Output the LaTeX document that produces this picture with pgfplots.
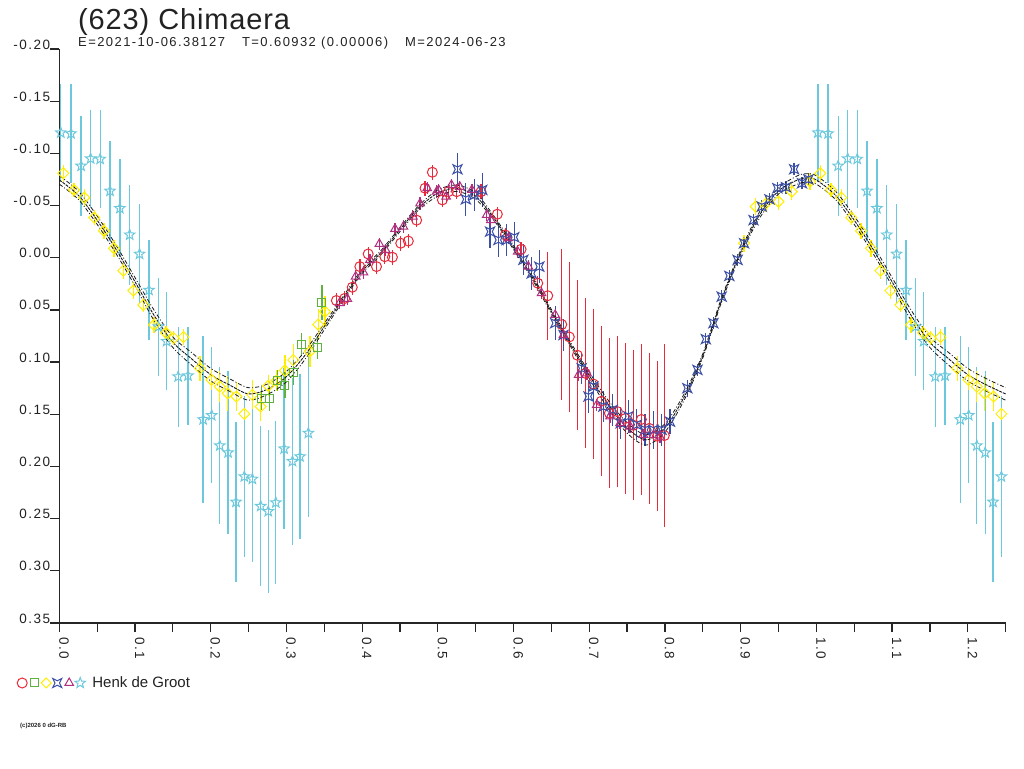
\documentclass[border=0pt]{standalone}
\usepackage{fontspec}
\setmainfont{Liberation Sans}
\newfontfamily\spaced[LetterSpace=11]{Liberation Sans}
\newfontfamily\titlefont[LetterSpace=3]{Liberation Sans}
\usepackage{pgfplots}
\pgfplotsset{compat=1.18}
\usepackage{pgfplotstable}
\definecolor{cRed}{HTML}{E82A3A}
\definecolor{cGreen}{HTML}{5DB33D}
\definecolor{cYellow}{HTML}{FFEE00}
\definecolor{cBlue}{HTML}{3A4FA5}
\definecolor{cPurple}{HTML}{B0307F}
\definecolor{cCyan}{HTML}{6CC8DC}
\definecolor{cText}{HTML}{222222}

\pgfdeclareplotmark{fourstar}{%
  \pgfpathmoveto{\pgfqpoint{\pgfplotmarksize}{\pgfplotmarksize}}%
  \pgfpathlineto{\pgfqpoint{0.5\pgfplotmarksize}{0pt}}%
  \pgfpathlineto{\pgfqpoint{\pgfplotmarksize}{-\pgfplotmarksize}}%
  \pgfpathlineto{\pgfqpoint{0pt}{-0.5\pgfplotmarksize}}%
  \pgfpathlineto{\pgfqpoint{-\pgfplotmarksize}{-\pgfplotmarksize}}%
  \pgfpathlineto{\pgfqpoint{-0.5\pgfplotmarksize}{0pt}}%
  \pgfpathlineto{\pgfqpoint{-\pgfplotmarksize}{\pgfplotmarksize}}%
  \pgfpathlineto{\pgfqpoint{0pt}{0.5\pgfplotmarksize}}%
  \pgfpathclose\pgfusepathqstroke}
\pgfdeclareplotmark{rdiamond}{%
  \pgfpathmoveto{\pgfqpoint{0pt}{\pgfplotmarksize}}%
  \pgfpathlineto{\pgfqpoint{\pgfplotmarksize}{0pt}}%
  \pgfpathlineto{\pgfqpoint{0pt}{-\pgfplotmarksize}}%
  \pgfpathlineto{\pgfqpoint{-\pgfplotmarksize}{0pt}}%
  \pgfpathclose\pgfusepathqstroke}
\pgfdeclareplotmark{pstar}{%
  \pgfpathmoveto{\pgfqpoint{0pt}{\pgfplotmarksize}}%
  \pgfpathlineto{\pgfqpoint{0.247\pgfplotmarksize}{0.340\pgfplotmarksize}}%
  \pgfpathlineto{\pgfqpoint{0.951\pgfplotmarksize}{0.309\pgfplotmarksize}}%
  \pgfpathlineto{\pgfqpoint{0.399\pgfplotmarksize}{-0.130\pgfplotmarksize}}%
  \pgfpathlineto{\pgfqpoint{0.588\pgfplotmarksize}{-0.809\pgfplotmarksize}}%
  \pgfpathlineto{\pgfqpoint{0pt}{-0.42\pgfplotmarksize}}%
  \pgfpathlineto{\pgfqpoint{-0.588\pgfplotmarksize}{-0.809\pgfplotmarksize}}%
  \pgfpathlineto{\pgfqpoint{-0.399\pgfplotmarksize}{-0.130\pgfplotmarksize}}%
  \pgfpathlineto{\pgfqpoint{-0.951\pgfplotmarksize}{0.309\pgfplotmarksize}}%
  \pgfpathlineto{\pgfqpoint{-0.247\pgfplotmarksize}{0.340\pgfplotmarksize}}%
  \pgfpathclose\pgfusepathqstroke}

\pgfplotstableread{
p m lo hi
0.000 -0.0745 -0.0785 -0.0705
0.025 -0.0600 -0.0640 -0.0560
0.050 -0.0360 -0.0400 -0.0320
0.075 -0.0080 -0.0120 -0.0040
0.100 0.0230 0.0190 0.0270
0.125 0.0550 0.0500 0.0600
0.150 0.0810 0.0760 0.0860
0.175 0.0970 0.0910 0.1030
0.200 0.1120 0.1060 0.1180
0.225 0.1220 0.1160 0.1280
0.250 0.1305 0.1245 0.1365
0.275 0.1260 0.1210 0.1310
0.300 0.1140 0.1090 0.1190
0.325 0.0930 0.0890 0.0970
0.350 0.0660 0.0630 0.0690
0.375 0.0390 0.0370 0.0410
0.400 0.0130 0.0110 0.0150
0.425 -0.0050 -0.0070 -0.0030
0.450 -0.0270 -0.0290 -0.0250
0.475 -0.0480 -0.0500 -0.0460
0.500 -0.0620 -0.0650 -0.0590
0.525 -0.0666 -0.0696 -0.0636
0.550 -0.0590 -0.0620 -0.0560
0.575 -0.0370 -0.0390 -0.0350
0.600 -0.0098 -0.0118 -0.0078
0.625 0.0190 0.0170 0.0210
0.650 0.0515 0.0495 0.0535
0.675 0.0826 0.0806 0.0846
0.700 0.1127 0.1097 0.1157
0.725 0.1405 0.1365 0.1445
0.750 0.1630 0.1580 0.1680
0.775 0.1745 0.1695 0.1795
0.800 0.1630 0.1590 0.1670
0.825 0.1340 0.1310 0.1370
0.850 0.0940 0.0920 0.0960
0.875 0.0400 0.0380 0.0420
0.900 -0.0050 -0.0070 -0.0030
0.925 -0.0410 -0.0440 -0.0380
0.950 -0.0640 -0.0670 -0.0610
0.975 -0.0745 -0.0785 -0.0705
0.9875 -0.0765 -0.0805 -0.0725
1.000 -0.0745 -0.0785 -0.0705
1.025 -0.0600 -0.0640 -0.0560
1.050 -0.0360 -0.0400 -0.0320
1.075 -0.0080 -0.0120 -0.0040
1.100 0.0230 0.0190 0.0270
1.125 0.0550 0.0500 0.0600
1.150 0.0810 0.0760 0.0860
1.175 0.0970 0.0910 0.1030
1.200 0.1120 0.1060 0.1180
1.225 0.1220 0.1160 0.1280
1.250 0.1305 0.1245 0.1365
}\tCurve

\pgfplotstableread{
p m e
0.366 0.041 0.007
0.377 0.039 0.007
0.387 0.0283 0.007
0.397 0.0085 0.007
0.408 -0.0036 0.007
0.419 0.0085 0.007
0.430 -0.0010 0.007
0.440 -0.0005 0.007
0.451 -0.0139 0.007
0.461 -0.0160 0.007
0.472 -0.0360 0.007
0.4831 -0.0666 0.007
0.4928 -0.0819 0.007
0.506 -0.0554 0.007
0.514 -0.0633 0.007
0.525 -0.0633 0.007
0.557 -0.0633 0.007
0.5786 -0.0417 0.007
0.589 -0.0218 0.007
0.610 -0.0081 0.007
0.632 0.0244 0.007
0.6452 0.0364 0.042
0.6637 0.0640 0.072
0.6737 0.0759 0.072
0.6843 0.0934 0.072
0.6948 0.1107 0.072
0.7054 0.1210 0.072
0.7160 0.1375 0.072
0.7266 0.1490 0.072
0.7371 0.1474 0.072
0.7477 0.1540 0.072
0.7583 0.1605 0.072
0.7688 0.1550 0.072
0.7794 0.1635 0.072
0.7900 0.1710 0.072
0.7992 0.1704 0.088
}\tRed

\pgfplotstableread{
p m e
0.2674 0.1353 0.011
0.2775 0.1346 0.012
0.288 0.1177 0.010
0.298 0.1225 0.012
0.309 0.1100 0.012
0.320 0.0835 0.011
0.341 0.0860 0.011
0.347 0.0430 0.017
}\tGreen

\pgfplotstableread{
p m e
0.0053 -0.0810 0.008
0.0194 -0.0650 0.007
0.033 -0.0576 0.008
0.0462 -0.0384 0.007
0.059 -0.0257 0.008
0.0723 -0.0090 0.008
0.0846 0.0124 0.008
0.0978 0.0315 0.008
0.111 0.0452 0.007
0.125 0.0644 0.008
0.141 0.0720 0.007
0.151 0.0770 0.007
0.164 0.0760 0.008
0.186 0.1060 0.012
0.201 0.1170 0.010
0.212 0.1235 0.015
0.2225 0.1300 0.017
0.234 0.1330 0.014
0.2444 0.1496 0.006
0.255 0.1314 0.014
0.266 0.1426 0.014
0.276 0.1228 0.010
0.287 0.1177 0.010
0.298 0.1080 0.015
0.309 0.0980 0.015
0.331 0.0899 0.015
0.342 0.0640 0.015
0.351 0.0516 0.015
}\tYellow

\pgfplotstableread{
p m e
0.9045 -0.0139 0.008
0.920 -0.0490 0.008
0.9335 -0.0520 0.008
0.950 -0.0537 0.008
0.9675 -0.0633 0.008
0.9917 -0.0729 0.008
}\tYellowB

\pgfplotstableread{
p m e
0.526 -0.0848 0.016
0.537 -0.0560 0.016
0.548 -0.0600 0.015
0.5588 -0.0650 0.016
0.569 -0.0250 0.016
0.580 -0.0170 0.016
0.591 -0.0170 0.015
0.601 -0.0196 0.015
0.613 0.0020 0.015
0.624 0.0150 0.016
0.634 0.0085 0.016
0.655 0.0627 0.016
0.666 0.0740 0.015
0.690 0.1060 0.015
0.699 0.1330 0.016
0.7055 0.1235 0.015
0.7186 0.1426 0.015
0.731 0.1458 0.015
0.7416 0.1585 0.015
0.7517 0.1520 0.016
0.7627 0.1600 0.015
0.7737 0.1650 0.015
0.7847 0.1650 0.018
0.7958 0.1650 0.015
0.8067 0.1570 0.012
0.8296 0.1250 0.008
0.843 0.1075 0.006
0.854 0.0780 0.006
0.864 0.0627 0.006
0.875 0.0373 0.006
0.885 0.0174 0.006
0.896 0.0021 0.006
0.9045 -0.0139 0.006
0.917 -0.0360 0.006
0.928 -0.0490 0.006
0.938 -0.0560 0.006
0.9485 -0.0666 0.006
0.960 -0.0675 0.006
0.9706 -0.0848 0.006
0.981 -0.0714 0.006
0.9895 -0.0750 0.006
}\tBlue

\pgfplotstableread{
p m e
0.370 0.0436 0.006
0.3805 0.0395 0.006
0.3915 0.0180 0.006
0.4017 0.0140 0.006
0.4104 0.0021 0.006
0.4228 -0.0132 0.006
0.431 -0.0075 0.006
0.4435 -0.0276 0.006
0.4545 -0.0298 0.006
0.467 -0.0394 0.006
0.4765 -0.0520 0.006
0.486 -0.0666 0.006
0.4985 -0.0633 0.006
0.501 -0.0650 0.006
0.511 -0.0585 0.006
0.518 -0.0697 0.006
0.529 -0.0680 0.006
0.545 -0.0650 0.006
0.5646 -0.0410 0.006
0.570 -0.0360 0.006
0.593 -0.0187 0.006
0.6055 -0.0058 0.006
0.6196 0.0085 0.006
0.637 0.0340 0.006
0.655 0.0548 0.006
0.666 0.0740 0.006
0.686 0.1123 0.006
0.697 0.1107 0.006
0.710 0.1410 0.006
0.7275 0.1520 0.006
0.7407 0.1585 0.006
0.754 0.1618 0.006
0.7715 0.1697 0.006
0.785 0.1697 0.006
0.7935 0.1714 0.006
}\tPurple

\pgfplotstableread{
p m e
0.002 -0.1198 0.047
0.0155 -0.1190 0.047
0.0288 -0.0880 0.048
0.0414 -0.0950 0.047
0.054 -0.0946 0.047
0.067 -0.0640 0.048
0.080 -0.0474 0.047
0.093 -0.0220 0.048
0.106 -0.0036 0.048
0.1185 0.0310 0.048
0.131 0.0660 0.047
0.1418 0.0800 0.047
0.157 0.1139 0.048
0.170 0.1130 0.047
0.190 0.1550 0.080
0.2013 0.1510 0.065
0.212 0.1800 0.075
0.223 0.1867 0.078
0.2334 0.2340 0.077
0.2444 0.2097 0.077
0.255 0.2120 0.080
0.266 0.2380 0.077
0.276 0.2430 0.078
0.286 0.2346 0.078
0.297 0.1830 0.077
0.308 0.1950 0.080
0.318 0.1905 0.079
0.329 0.1680 0.080
}\tCyan

\pgfplotsset{
  errs/.style={error bars/y dir=both, error bars/y explicit, error bars/error mark=none,
    error bars/error bar style={line width=1.3pt}},
}

\begin{document}
\begin{tikzpicture}[x=1pt,y=1pt]
\path (0,0) rectangle (1024,768);
\begin{axis}[
  at={(59.3pt,145pt)}, anchor=south west,
  scale only axis, width=946.3pt, height=574pt,
  xmin=0, xmax=1.25, ymin=-0.2, ymax=0.35,
  y dir=reverse, clip=false, enlargelimits=false,
  axis x line*=bottom, axis y line*=left,
  axis line style={-, line width=1.2pt, black!85},
  tick align=outside, major tick length=9pt, minor tick length=9pt,
  tick style={line width=1.2pt, black!85},
  xtick={0,0.1,0.2,0.3,0.4,0.5,0.6,0.7,0.8,0.9,1.0,1.1,1.2},
  xticklabels={0.0,0.1,0.2,0.3,0.4,0.5,0.6,0.7,0.8,0.9,1.0,1.1,1.2},
  minor xtick={0.05,0.15,0.25,0.35,0.45,0.55,0.65,0.75,0.85,0.95,1.05,1.15,1.25},
  ytick={-0.2,-0.15,-0.1,-0.05,0,0.05,0.1,0.15,0.2,0.25,0.3,0.35},
  yticklabels={-0.20,-0.15,-0.10,-0.05,0.00,0.05,0.10,0.15,0.20,0.25,0.30,0.35},
  xticklabel style={rotate=-90, anchor=base west, inner sep=0pt, xshift=5pt, font=\spaced\fontsize{13.5}{15}\selectfont, text=cText},
  yticklabel style={anchor=base east, inner sep=0pt, font=\spaced\fontsize{13.5}{15}\selectfont, text=cText},
  legend style={draw=none, fill=none, at={(axis description cs:-0.0447,-0.1045)}, anchor=west,
    inner sep=0pt, font=\fontsize{15}{18}\selectfont, text=cText, nodes={inner sep=0pt}},
  legend cell align=left,
]
\addlegendimage{legend image code/.code={
  \draw[cRed, line width=1pt, mark size=5pt] plot[mark=o] coordinates {(5pt,0pt)};
  \draw[cGreen, line width=1pt, mark size=4pt] plot[mark=square] coordinates {(17pt,0pt)};
  \draw[cYellow, line width=1pt, mark size=5pt] plot[mark=rdiamond] coordinates {(29pt,0pt)};
  \draw[cBlue, line width=1pt, mark size=4.5pt] plot[mark=fourstar] coordinates {(40pt,0pt)};
  \draw[cPurple, line width=1pt, mark size=5pt] plot[mark=triangle] coordinates {(52pt,0pt)};
  \draw[cCyan, line width=1pt, mark size=5.5pt] plot[mark=pstar] coordinates {(63pt,0pt)};
  \path (75pt,0pt);
}}
\addlegendentry{Henk de Groot}

\addplot[cCyan, only marks, mark=pstar, mark size=5.5pt, line width=1pt, errs] table[x=p, y=m, y error=e] {\tCyan};
\addplot[cCyan, only marks, mark=pstar, mark size=5.5pt, line width=1pt, restrict x to domain=0:1.25, errs] table[x expr=\thisrow{p}+1, y=m, y error=e] {\tCyan};
\addplot[cYellow, only marks, mark=rdiamond, mark size=5.5pt, line width=1pt, errs] table[x=p, y=m, y error=e] {\tYellow};
\addplot[cYellow, only marks, mark=rdiamond, mark size=5.5pt, line width=1pt, restrict x to domain=0:1.25, errs] table[x expr=\thisrow{p}+1, y=m, y error=e] {\tYellow};
\addplot[cYellow, only marks, mark=rdiamond, mark size=5.5pt, line width=1pt, errs] table[x=p, y=m, y error=e] {\tYellowB};
\addplot[cGreen, only marks, mark=square, mark size=4pt, line width=1pt, errs] table[x=p, y=m, y error=e] {\tGreen};
\addplot[cRed, only marks, mark=o, mark size=5pt, line width=1pt, errs] table[x=p, y=m, y error=e] {\tRed};
\addplot[cBlue, only marks, mark=fourstar, mark size=4.5pt, line width=1pt, errs] table[x=p, y=m, y error=e] {\tBlue};
\addplot[cPurple, only marks, mark=triangle, mark size=5pt, line width=1pt, errs] table[x=p, y=m, y error=e] {\tPurple};

\addplot[black!90, line width=0.9pt, smooth, no marks, dash pattern=on 3pt off 1pt] table[x=p, y=m] {\tCurve};
\addplot[black!90, line width=0.8pt, smooth, no marks, dash pattern=on 4pt off 2pt on 1pt off 2pt] table[x=p, y=lo] {\tCurve};
\addplot[black!90, line width=0.8pt, smooth, no marks, dash pattern=on 4pt off 2pt on 1pt off 2pt] table[x=p, y=hi] {\tCurve};
\end{axis}
\node[anchor=base west, inner sep=0pt, font=\titlefont\fontsize{29}{34}\selectfont, text=cText] at (78,738) {(623) Chimaera};
\node[anchor=base west, inner sep=0pt, font=\spaced\fontsize{13}{15}\selectfont, text=cText] at (78,721.3) {E=2021-10-06.38127\hspace{17pt}T=0.60932 (0.00006)\hspace{17pt}M=2024-06-23};
\node[anchor=base west, inner sep=0pt, font=\bfseries\fontsize{6}{7}\selectfont, text=cText] at (20,41) {(c)2026 0 dG-RB};
\end{tikzpicture}
\end{document}
